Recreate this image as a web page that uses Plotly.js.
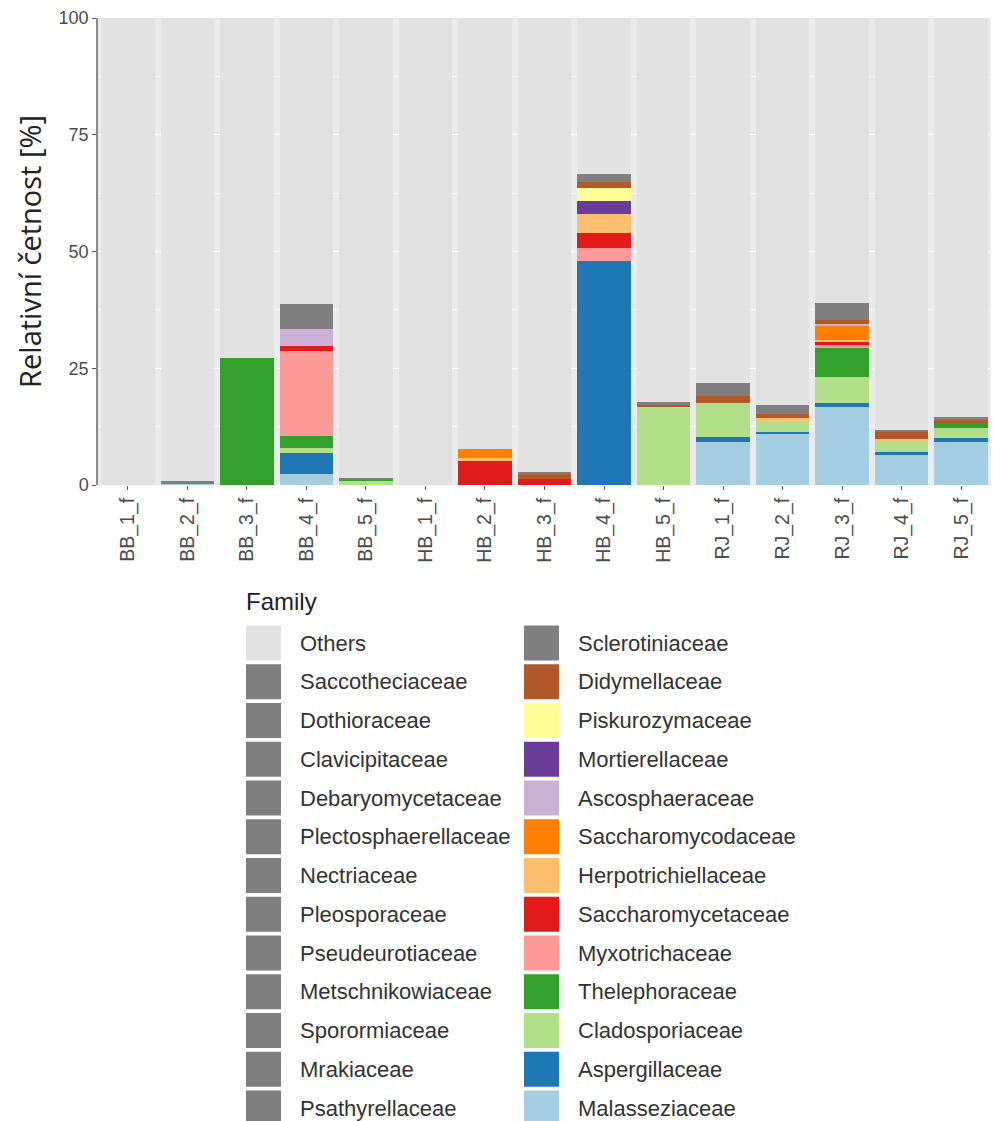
<!DOCTYPE html>
<html>
<head>
<meta charset="utf-8">
<script src="https://cdn.plot.ly/plotly-3.0.1.min.js"></script>
<style>html,body{margin:0;padding:0;background:#fff;}#chart{width:993px;height:1121px;}</style>
</head>
<body>
<div id="chart"></div>
<script>
// ---- Data (relative abundance, %) ----
var samples = ["BB_1_f","BB_2_f","BB_3_f","BB_4_f","BB_5_f","HB_1_f","HB_2_f","HB_3_f","HB_4_f","HB_5_f","RJ_1_f","RJ_2_f","RJ_3_f","RJ_4_f","RJ_5_f"];

var Malasseziaceae      = [0, 0.3, 0, 2.4, 0, 0, 0, 0, 0, 0, 9.2, 11.0, 16.7, 6.4, 9.2];
var Aspergillaceae      = [0, 0, 0, 4.5, 0, 0, 0, 0, 48.0, 0, 1.0, 0.4, 0.8, 0.6, 0.9];
var Cladosporiaceae     = [0, 0, 0, 1.0, 1.0, 0, 0, 0, 0, 16.7, 7.3, 2.2, 5.6, 2.5, 2.2];
var Thelephoraceae      = [0, 0, 27.2, 2.6, 0.2, 0, 0, 0, 0, 0, 0, 0, 6.2, 0, 0.8];
var Myxotrichaceae      = [0, 0, 0, 18.2, 0, 0, 0, 0, 2.8, 0, 0, 0, 0.6, 0, 0];
var Saccharomycetaceae  = [0, 0, 0, 1.0, 0, 0, 5.2, 1.3, 3.2, 0, 0, 0, 0.9, 0, 0];
var Herpotrichiellaceae = [0, 0, 0, 0, 0, 0, 0.6, 0, 4.1, 0, 0, 0.7, 0.3, 0.3, 0];
var Saccharomycodaceae  = [0, 0, 0, 0, 0, 0, 2.0, 0, 0, 0, 0, 0, 3.0, 0, 0];
var Ascosphaeraceae     = [0, 0, 0, 3.6, 0, 0, 0, 0, 0, 0, 0, 0, 0.4, 0, 0];
var Mortierellaceae     = [0, 0, 0, 0, 0, 0, 0, 0, 2.8, 0, 0, 0, 0, 0, 0];
var Piskurozymaceae     = [0, 0, 0, 0, 0, 0, 0, 0, 2.6, 0, 0, 0, 0, 0, 0];
var Didymellaceae       = [0, 0, 0, 0, 0, 0, 0, 1.1, 1.3, 0.5, 1.5, 0.9, 0.8, 1.7, 0.8];
var Sclerotiniaceae     = [0, 0.6, 0, 3.0, 0.3, 0, 0, 0.4, 1.9, 0.6, 1.5, 1.9, 2.0, 0.3, 0.7];
var Psathyrellaceae     = [0, 0, 0, 0, 0, 0, 0, 0, 0, 0, 0, 0, 0, 0, 0];
var Mrakiaceae          = [0, 0, 0, 0, 0, 0, 0, 0, 0, 0, 0, 0, 0, 0, 0];
var Sporormiaceae       = [0, 0, 0, 0, 0, 0, 0, 0, 0, 0, 0, 0, 0, 0, 0];
var Metschnikowiaceae   = [0, 0, 0, 0, 0, 0, 0, 0, 0, 0, 0, 0, 0, 0, 0];
var Pseudeurotiaceae    = [0, 0, 0, 0, 0, 0, 0, 0, 0, 0, 0, 0, 0, 0, 0];
var Pleosporaceae       = [0, 0, 0, 2.4, 0, 0, 0, 0, 0, 0, 1.3, 0, 1.6, 0, 0];
var Nectriaceae         = [0, 0, 0, 0, 0, 0, 0, 0, 0, 0, 0, 0, 0, 0, 0];
var Plectosphaerellaceae= [0, 0, 0, 0, 0, 0, 0, 0, 0, 0, 0, 0, 0, 0, 0];
var Debaryomycetaceae   = [0, 0, 0, 0, 0, 0, 0, 0, 0, 0, 0, 0, 0, 0, 0];
var Clavicipitaceae     = [0, 0, 0, 0, 0, 0, 0, 0, 0, 0, 0, 0, 0, 0, 0];
var Dothioraceae        = [0, 0, 0, 0, 0, 0, 0, 0, 0, 0, 0, 0, 0, 0, 0];
var Saccotheciaceae     = [0, 0, 0, 0, 0, 0, 0, 0, 0, 0, 0, 0, 0, 0, 0];
var Others              = [100, 99.1, 72.8, 61.3, 98.5, 100, 92.2, 97.2, 33.3, 82.2, 78.2, 82.9, 61.1, 88.2, 85.4];

// legend order (ggplot: first level on top of stack)
var familyNames = ["Others","Saccotheciaceae","Dothioraceae","Clavicipitaceae","Debaryomycetaceae","Plectosphaerellaceae","Nectriaceae","Pleosporaceae","Pseudeurotiaceae","Metschnikowiaceae","Sporormiaceae","Mrakiaceae","Psathyrellaceae",
                   "Sclerotiniaceae","Didymellaceae","Piskurozymaceae","Mortierellaceae","Ascosphaeraceae","Saccharomycodaceae","Herpotrichiellaceae","Saccharomycetaceae","Myxotrichaceae","Thelephoraceae","Cladosporiaceae","Aspergillaceae","Malasseziaceae"];
var familyValues = [Others,Saccotheciaceae,Dothioraceae,Clavicipitaceae,Debaryomycetaceae,Plectosphaerellaceae,Nectriaceae,Pleosporaceae,Pseudeurotiaceae,Metschnikowiaceae,Sporormiaceae,Mrakiaceae,Psathyrellaceae,
                    Sclerotiniaceae,Didymellaceae,Piskurozymaceae,Mortierellaceae,Ascosphaeraceae,Saccharomycodaceae,Herpotrichiellaceae,Saccharomycetaceae,Myxotrichaceae,Thelephoraceae,Cladosporiaceae,Aspergillaceae,Malasseziaceae];
var GRAY = "#7F7F7F";
var familyColors = ["#E2E2E2",GRAY,GRAY,GRAY,GRAY,GRAY,GRAY,GRAY,GRAY,GRAY,GRAY,GRAY,GRAY,
                    GRAY,"#B15928","#FFFF99","#6A3D9A","#CAB2D6","#FF7F00","#FDBF6F","#E31A1C","#FB9A99","#33A02C","#B2DF8A","#1F78B4","#A6CEE3"];
var yTicks = [0, 25, 50, 75, 100];

// ---- Layout geometry ----
var W = 993, H = 1121;
var M = {l: 98, r: 2, t: 18, b: 636};
var PW = W - M.l - M.r, PH = H - M.t - M.b;
function px(x){ return (x - M.l) / PW; }
function py(y){ return (H - M.b - y) / PH; }

// traces: stacked from bottom (last legend item) to top (first)
var traces = [];
for (var i = familyNames.length - 1; i >= 0; i--) {
  traces.push({
    type: "bar", name: familyNames[i], x: samples, y: familyValues[i],
    marker: {color: familyColors[i], line: {width: 0}},
    showlegend: false, hovertemplate: "%{x}<br>" + familyNames[i] + ": %{y}%<extra></extra>"
  });
}

// manual ggplot-style legend (2 columns, column-major)
var shapes = [], annotations = [];
var rowsPerCol = 13, rowStep = 38.75, firstRowY = 643;
var colSwatchX = [246, 524], swatch = 35, textOffset = 52;
annotations.push({xref:"paper", yref:"paper", x: px(colSwatchX[0] - 2), y: py(601), text: "Family",
  showarrow:false, xanchor:"left", yanchor:"middle", font:{family:"Liberation Sans, Arial", size:24, color:"#222"}});
for (var k = 0; k < familyNames.length; k++) {
  var c = Math.floor(k / rowsPerCol), r = k % rowsPerCol;
  var cy = firstRowY + r * rowStep, sx = colSwatchX[c];
  shapes.push({type:"rect", xref:"paper", yref:"paper", x0: px(sx), x1: px(sx + swatch),
    y0: py(cy + swatch/2), y1: py(cy - swatch/2), fillcolor: familyColors[k], line:{width:0}, layer:"above"});
  annotations.push({xref:"paper", yref:"paper", x: px(sx + textOffset), y: py(cy), text: familyNames[k],
    showarrow:false, xanchor:"left", yanchor:"middle", font:{family:"Liberation Sans, Arial", size:22, color:"#333"}});
}

var layout = {
  width: W, height: H, margin: M,
  paper_bgcolor: "#FFFFFF", plot_bgcolor: "#EBEBEB",
  barmode: "stack", bargap: 0.1,
  showlegend: false,
  xaxis: {
    type: "category", tickangle: -90, ticks: "outside", ticklen: 4, tickwidth: 1.2, tickcolor: "#555",
    tickfont: {family: "Liberation Sans, Arial", size: 19.5, color: "#4D4D4D"},
    showgrid: true, gridcolor: "#FFFFFF", gridwidth: 1, showline: false, zeroline: false
  },
  yaxis: {
    range: [0, 100], tickvals: yTicks, ticktext: yTicks.map(String),
    ticks: "outside", ticklen: 4, tickwidth: 1.2, tickcolor: "#555",
    tickfont: {family: "Liberation Sans, Arial", size: 18, color: "#4D4D4D"},
    showgrid: true, gridcolor: "#FFFFFF", gridwidth: 1,
    minor: {dtick: 12.5, showgrid: true, gridcolor: "#F5F5F5", gridwidth: 0.5},
    showline: true, linecolor: "#8A8A8A", linewidth: 1.5, zeroline: false,
    title: {text: "Relativní četnost [%]", standoff: 8, font: {family: "Open Sans", size: 29, color: "#222"}}
  },
  shapes: shapes, annotations: annotations
};

Plotly.newPlot("chart", traces, layout, {displayModeBar: false, responsive: false});
</script>
</body>
</html>
